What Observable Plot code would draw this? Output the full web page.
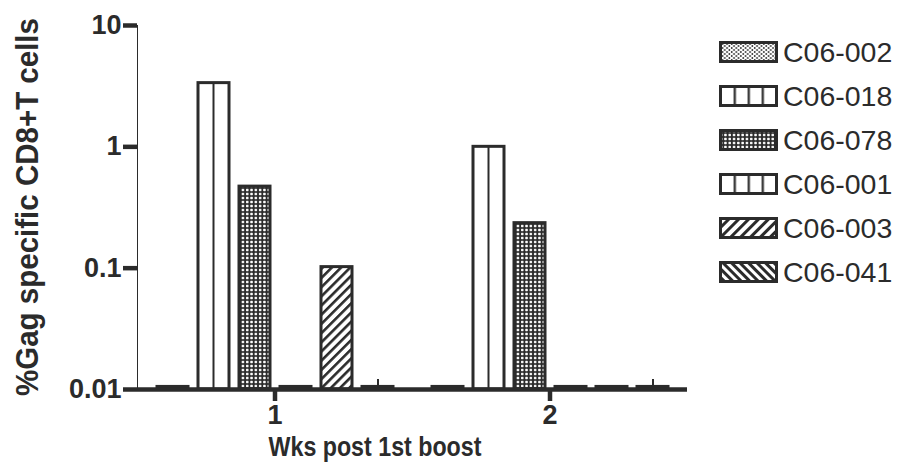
<!DOCTYPE html>
<html>
<head>
<meta charset="utf-8">
<script src="https://cdn.jsdelivr.net/npm/d3@7"></script>
<script src="https://cdn.jsdelivr.net/npm/@observablehq/plot@0.6"></script>
<style>
  body { margin: 0; background: #fff; }
  #wrap { position: relative; width: 903px; height: 476px; overflow: hidden;
          font-family: "Liberation Sans", Arial, sans-serif; color: #2b2b2b; background: #fff; }
  #wrap svg.plot { position: absolute; left: 0; top: 0; }
  #wrap svg [aria-label^="y-axis"] line, #wrap svg [aria-label^="y-axis"] path,
  #wrap svg [aria-label^="fx-axis"] line, #wrap svg [aria-label^="fx-axis"] path { stroke-width: 4.5px; stroke: #2b2b2b; }
  .ytitle { position: absolute; left: 27px; top: 207px; width: 420px; margin-left: -210px; margin-top: -17px;
            height: 34px; line-height: 34px; text-align: center; transform: rotate(-90deg) scaleY(1.08);
            font-weight: bold; font-size: 29.5px; white-space: nowrap; }
  .xtitle { position: absolute; left: 375px; top: 447px; width: 400px; margin-left: -200px; margin-top: -17px;
            height: 34px; line-height: 34px; text-align: center; font-weight: bold; font-size: 27px;
            transform: scaleX(0.86); white-space: nowrap; }
  #legend { position: absolute; left: 719px; top: 30px; }
  .lrow { display: flex; align-items: center; height: 44px; }
  .lrow svg { display: block; margin-right: 4px; }
  .lrow span { font-size: 28.5px; line-height: 30px; }
</style>
</head>
<body>
<svg width="0" height="0" style="position:absolute">
  <defs>
    <!-- bar patterns -->
    <pattern id="p002" width="4" height="4" patternUnits="userSpaceOnUse">
      <rect width="4" height="4" fill="#fff"/><circle cx="2" cy="2" r="0.8" fill="#2b2b2b"/>
    </pattern>
    <pattern id="p018" width="1" height="1" patternUnits="objectBoundingBox" patternContentUnits="objectBoundingBox">
      <rect width="1" height="1" fill="#fff"/><rect x="0.468" width="0.064" height="1" fill="#2b2b2b"/>
    </pattern>
    <pattern id="p078" width="4.3" height="4" patternUnits="userSpaceOnUse">
      <rect width="5" height="5" fill="#2b2b2b"/><rect x="0.9" y="0.8" width="2.5" height="2.4" rx="0.6" fill="#fff"/>
    </pattern>
    <pattern id="p001" width="1" height="1" patternUnits="objectBoundingBox" patternContentUnits="objectBoundingBox">
      <rect width="1" height="1" fill="#fff"/><rect x="0.468" width="0.064" height="1" fill="#2b2b2b"/>
    </pattern>
    <pattern id="p003" width="6.5" height="6.5" patternUnits="userSpaceOnUse" patternTransform="rotate(45)">
      <rect width="7" height="7" fill="#fff"/><rect width="2.6" height="7" fill="#2b2b2b"/>
    </pattern>
    <pattern id="p041" width="6" height="6" patternUnits="userSpaceOnUse" patternTransform="rotate(-45)">
      <rect width="7" height="7" fill="#fff"/><rect width="2.8" height="7" fill="#2b2b2b"/>
    </pattern>
    <!-- legend patterns -->
    <pattern id="l002" width="4.6" height="4" patternUnits="userSpaceOnUse">
      <rect width="5" height="5" fill="#fff"/><circle cx="1.2" cy="1" r="0.9" fill="#2b2b2b"/><circle cx="3.5" cy="3" r="0.9" fill="#2b2b2b"/>
    </pattern>
    <pattern id="l018" width="1" height="1" patternUnits="objectBoundingBox" patternContentUnits="objectBoundingBox">
      <rect width="1" height="1" fill="#fff"/>
      <rect x="0.235" width="0.04" height="1" fill="#2b2b2b"/>
      <rect x="0.485" width="0.04" height="1" fill="#2b2b2b"/>
      <rect x="0.735" width="0.04" height="1" fill="#2b2b2b"/>
    </pattern>
    <pattern id="l078" width="4.3" height="4" patternUnits="userSpaceOnUse">
      <rect width="5" height="5" fill="#2b2b2b"/><rect x="0.9" y="0.8" width="2.5" height="2.4" rx="0.6" fill="#fff"/>
    </pattern>
    <pattern id="l003" width="7" height="7" patternUnits="userSpaceOnUse" patternTransform="rotate(45)">
      <rect width="8" height="8" fill="#fff"/><rect width="3" height="8" fill="#2b2b2b"/>
    </pattern>
    <pattern id="l041" width="6" height="6" patternUnits="userSpaceOnUse" patternTransform="rotate(-45)">
      <rect width="7" height="7" fill="#fff"/><rect width="3" height="7" fill="#2b2b2b"/>
    </pattern>
  </defs>
</svg>
<div id="wrap"></div>
<script>
// ---- data ----
const weeks = [1, 2];
const subjects = ["C06-002", "C06-018", "C06-078", "C06-001", "C06-003", "C06-041"];
const week1Values = [0.0105, 3.35, 0.47, 0.0105, 0.102, 0.0105];
const week2Values = [0.0105, 1.0, 0.235, 0.0105, 0.0105, 0.0105];
const week1Upper = [null, null, null, null, null, 0.0121];
const week2Upper = [null, null, null, null, null, 0.0121];
const yTicks = [0.01, 0.1, 1, 10];
const barPatterns = ["p002", "p018", "p078", "p001", "p003", "p041"];
const legendPatterns = ["l002", "l018", "l078", "l018", "l003", "l041"];
const yTitle = "%Gag specific CD8+T cells";
const xTitle = "Wks post 1st boost";

const valuesByWeek = [week1Values, week2Values];
const upperByWeek = [week1Upper, week2Upper];
const data = weeks.flatMap((w, i) => subjects.map((s, j) => ({
  week: w, subject: s, value: valuesByWeek[i][j], upper: upperByWeek[i][j]
})));

const ink = "#2b2b2b";
const chart = Plot.plot({
  width: 903,
  height: 476,
  marginLeft: 137,
  marginRight: 216,
  marginTop: 25,
  marginBottom: 87,
  style: { background: "transparent", color: ink, fontFamily: "Liberation Sans, Arial, sans-serif", fontSize: "27px", fontWeight: "bold", overflow: "visible" },
  facet: { data: data, x: "week" },
  fx: { padding: 0, axis: "bottom", label: null, tickSize: 12, tickPadding: 3, tickFormat: d => String(d) },
  x: { domain: subjects, axis: null, paddingInner: 0.25, paddingOuter: 0.45 },
  y: { type: "log", domain: [0.01, 10], ticks: yTicks, tickFormat: d => String(d), label: null, tickSize: 14, tickPadding: 2, line: true },
  color: { domain: subjects, range: barPatterns.map(id => `url(#${id})`) },
  marks: [
    Plot.barY(data, { x: "subject", y1: 0.01, y2: "value", fill: "subject", stroke: ink, strokeWidth: 3 }),
    Plot.ruleX(data, { filter: d => d.upper != null, x: "subject", y1: "value", y2: "upper", stroke: ink, strokeWidth: 2 }),
    Plot.ruleY([0.01], { stroke: ink, strokeWidth: 4.5 })
  ]
});
chart.classList.add("plot");

const wrap = document.getElementById("wrap");
wrap.appendChild(chart);

const yt = document.createElement("div");
yt.className = "ytitle"; yt.textContent = yTitle; wrap.appendChild(yt);
const xt = document.createElement("div");
xt.className = "xtitle"; xt.textContent = xTitle; wrap.appendChild(xt);

const legend = document.createElement("div");
legend.id = "legend";
subjects.forEach((s, i) => {
  const row = document.createElement("div");
  row.className = "lrow";
  row.innerHTML = `<svg width="60" height="23"><rect x="1.5" y="1.5" width="56" height="19" fill="url(#${legendPatterns[i]})" stroke="${ink}" stroke-width="3"/></svg><span>${s}</span>`;
  legend.appendChild(row);
});
wrap.appendChild(legend);
</script>
</body>
</html>
